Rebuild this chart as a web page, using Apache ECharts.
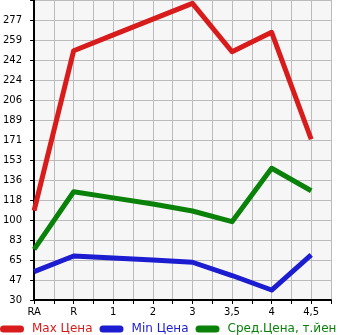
<!DOCTYPE html>
<html>
<head>
<meta charset="utf-8">
<style>html,body{margin:0;padding:0;background:#fff}#c{width:345px;height:335px}</style>
<script src="https://cdn.jsdelivr.net/npm/echarts@6/dist/echarts.min.js"></script>
</head>
<body>
<div id="c"></div>
<script>
const categories = ['RA', 'R', '1', '2', '3', '3,5', '4', '4,5'];
const maxPrice = [108.8, 249.9, 263.9, 277.8, 291.7, 249.0, 266.1, 171.8];
const minPrice = [55.0, 68.8, 67.0, 65.3, 63.3, 51.6, 38.8, 69.7];
const avgPrice = [74.7, 125.5, 120.1, 114.7, 108.5, 99.1, 146.2, 126.4];
const yLabels = ['30', '47', '65', '83', '100', '118', '136', '153', '171', '189', '206', '224', '242', '259', '277', ''];
const seriesNames = ['Max Цена', 'Min Цена', 'Сред.Цена, т.йен'];
const colors = ['#d81c1c', '#1c1cd0', '#0a820a'];

const yMin = 30, yStep = 247 / 14;
const chart = echarts.init(document.getElementById('c'), null, {renderer: 'canvas'});
const pill = 'path://M3.5,0 L20.5,0 A3.5,3.5 0 0 1 20.5,7 L3.5,7 A3.5,3.5 0 0 1 3.5,0 Z';
const mk = (name, vals, color) => ({
  name, type: 'line', data: vals.map((v, i) => [i, v]),
  showSymbol: false, symbol: 'none', clip: false,
  lineStyle: {color, width: 5, join: 'round'},
  itemStyle: {color}
});
chart.setOption({
  animation: false,
  grid: {left: 31, right: 14, top: 0, bottom: 35, show: true, backgroundColor: '#f6f6f6', borderWidth: 0},
  xAxis: {
    type: 'value', min: 0, max: 7.5, interval: 0.5,
    axisLine: {show: true, onZero: false, lineStyle: {color: '#000', width: 2}},
    axisTick: {show: true, length: 4, lineStyle: {color: '#000', width: 1}},
    splitLine: {show: true, lineStyle: {color: '#bbbbbb', width: 1}},
    axisLabel: {
      color: '#000', fontFamily: 'DejaVu Sans', fontSize: 10, margin: 7,
      showMinLabel: true, showMaxLabel: true,
      formatter: v => Number.isInteger(v) && v < categories.length ? categories[v] : ''
    }
  },
  yAxis: {
    type: 'value', min: yMin, max: yMin + 15 * yStep, interval: yStep,
    axisLine: {show: true, lineStyle: {color: '#000', width: 2}},
    axisTick: {show: true, length: 4, lineStyle: {color: '#000', width: 1}},
    splitLine: {show: true, lineStyle: {color: '#bbbbbb', width: 1}},
    axisLabel: {
      color: '#000', fontFamily: 'DejaVu Sans', fontSize: 10, margin: 12,
      padding: [0, 0, 7, 0],
      showMinLabel: true, showMaxLabel: true,
      formatter: v => { const i = Math.round((v - yMin) / yStep); return yLabels[i] || ''; }
    }
  },
  legend: {
    left: 0, bottom: 0, padding: 0, width: 600, itemWidth: 24, itemHeight: 7, itemGap: 7,
    icon: pill,
    textStyle: {fontFamily: 'DejaVu Sans', fontSize: 12, padding: [0, 0, 0, 3]},
    data: seriesNames.map((n, i) => ({name: n, textStyle: {color: colors[i]}}))
  },
  series: [
    mk(seriesNames[0], maxPrice, colors[0]),
    mk(seriesNames[1], minPrice, colors[1]),
    mk(seriesNames[2], avgPrice, colors[2])
  ]
});
</script>
</body>
</html>
